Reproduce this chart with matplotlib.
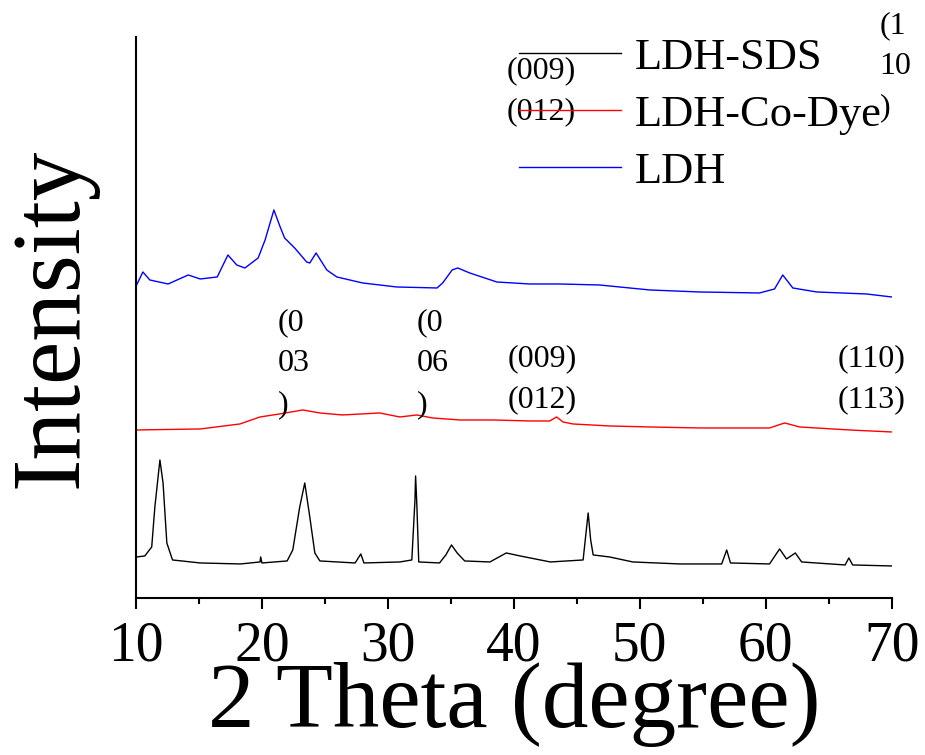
import matplotlib
matplotlib.use("Agg")
import matplotlib.pyplot as plt
from matplotlib.ticker import MultipleLocator

plt.rcParams["font.family"] = ["Liberation Serif", "DejaVu Serif"]

# ── XRD patterns (2θ in degree, intensity in arbitrary offset units) ──
sds_theta = [10.05, 10.7, 11.25, 11.5, 11.9, 12.15, 12.45, 12.9, 15.1, 18.3,
             19.85, 19.9, 20.0, 22.0, 22.45, 23.0, 23.4, 23.8, 24.2, 24.6,
             27.4, 27.85, 28.1, 30.95, 31.9, 32.15, 32.2, 32.3, 32.45, 34.1,
             34.6, 35.05, 35.5, 36.1, 38.1, 39.4, 40.5, 42.9, 45.5, 45.9,
             46.1, 46.3, 47.6, 49.45, 53.2, 56.5, 56.9, 57.2, 60.3, 61.1,
             61.65, 62.35, 62.85, 66.3, 66.6, 66.9, 70.0]
sds_int = [41, 42, 51, 91, 138, 115, 55, 38, 35, 34,
           36, 41, 35, 37, 48, 91, 115, 81, 45, 37,
           35, 44, 35, 36, 38, 98, 122, 93, 36, 35,
           43, 53, 45, 37, 36, 45, 42, 36, 38, 85,
           58, 43, 41, 36, 34, 34, 48, 35, 34, 49,
           39, 45, 36, 33, 40, 33, 32]

dye_theta = [10.0, 15.1, 18.25, 19.85, 21.4, 23.25, 24.6, 26.4, 29.35, 30.95,
             32.3, 33.55, 35.7, 38.35, 41.25, 42.85, 43.4, 43.9, 44.7, 47.6,
             50.8, 54.75, 60.3, 61.5, 62.7, 66.65, 70.0]
dye_int = [168, 169, 174, 181, 184, 188, 185, 183, 185, 181,
           183, 180, 178, 178, 177, 177, 181, 176, 174, 172,
           171, 170, 170, 175, 171, 168, 166]

ldh_theta = [10.05, 10.55, 11.1, 12.55, 14.15, 15.1, 16.45, 17.3, 18.0, 18.65,
             19.7, 20.25, 20.95, 21.45, 21.8, 22.6, 23.55, 23.8, 24.3, 25.15,
             25.95, 28.0, 30.7, 33.9, 34.35, 35.1, 35.55, 36.5, 38.65, 41.25,
             43.65, 46.8, 50.8, 54.75, 59.5, 60.7, 61.35, 62.15, 64.05, 68.0,
             70.0]
ldh_int = [313, 326, 318, 314, 323, 319, 321, 343, 333, 330,
           340, 358, 388, 371, 360, 350, 336, 335, 345, 328,
           321, 315, 311, 310, 315, 328, 330, 325, 316, 314,
           314, 313, 308, 306, 305, 309, 323, 310, 306, 304,
           301]

labels = ["LDH-SDS", "LDH-Co-Dye", "LDH"]

# hkl labels: (text, 2θ, top in intensity units)
hkl_notes = [
    ("(0\n03\n)", 21.27, 290),
    ("(0\n06\n)", 32.3, 290),
    ("(009)\n(012)", 39.5, 254),
    ("(110)\n(113)", 65.7, 254),
    ("(1\n10\n)", 69.05, 587),
    ("(009)\n(012)", 39.45, 542),
]

fig = plt.figure(figsize=(9.25, 7.55), dpi=100)
ax = fig.add_axes([0.147, 0.208, 0.817, 0.743])

ax.plot(sds_theta, sds_int, color="black", lw=1.0, label=labels[0])
ax.plot(dye_theta, dye_int, color="red", lw=1.0, label=labels[1])
ax.plot(ldh_theta, ldh_int, color="blue", lw=1.0, label=labels[2])

for txt, x, y in hkl_notes:
    ax.text(x, y, txt, fontsize=23, va="top", ha="left",
            linespacing=1.55, clip_on=False)

ax.set_xlim(10, 70)
ax.set_ylim(0, 561)
ax.xaxis.set_major_locator(MultipleLocator(10))
ax.xaxis.set_minor_locator(MultipleLocator(5))
ax.set_yticks([])

for side in ["top", "right"]:
    ax.spines[side].set_visible(False)
for side in ["left", "bottom"]:
    ax.spines[side].set_linewidth(1.5)

ax.tick_params(axis="x", which="major", direction="out", length=8,
               width=1.5, labelsize=40, pad=8)
ax.tick_params(axis="x", which="minor", direction="out", length=4, width=1.5)

ax.set_xlabel("2 Theta (degree)", fontsize=67, labelpad=-7)
ax.set_ylabel("Intensity", fontsize=70, labelpad=28)

ax.legend(loc="upper left", bbox_to_anchor=(0.483, 1.03), frameon=False,
          fontsize=32, handlelength=2.3, handletextpad=0.3,
          labelspacing=0.38, borderaxespad=0)

fig.savefig("out.png", dpi=100)
